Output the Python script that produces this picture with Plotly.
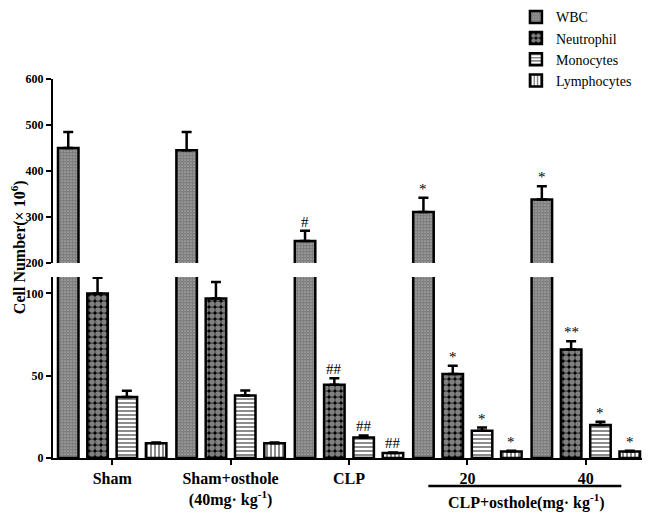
import plotly.graph_objects as go

categories = ["Sham", "Sham+osthole<br>(40mg· kg<sup>-1</sup>)", "CLP", "20", "40"]
series_names = ["WBC", "Neutrophil", "Monocytes", "Lymphocytes"]
wbc = [450, 445, 248, 311, 338]
wbc_err = [35, 40, 22, 31, 29]
neutrophil = [100, 97, 44.5, 51, 66]
neutrophil_err = [9.5, 10, 4, 5, 5]
monocytes = [37, 38, 12.5, 16.5, 20]
monocytes_err = [3.8, 3, 1.2, 2, 2]
lymphocytes = [9, 9, 3, 4, 4]
lymphocytes_err = [0.4, 0.4, 0.4, 0.4, 0.4]
wbc_marks = ["", "", "#", "*", "*"]
neutrophil_marks = ["", "", "##", "*", "**"]
monocytes_marks = ["", "", "##", "*", "*"]
lymphocytes_marks = ["", "", "##", "*", "*"]

values = [wbc, neutrophil, monocytes, lymphocytes]
errors = [wbc_err, neutrophil_err, monocytes_err, lymphocytes_err]
marks = [wbc_marks, neutrophil_marks, monocytes_marks, lymphocytes_marks]

patterns = [
    dict(shape=".", size=3, solidity=0.85, fgcolor="black", bgcolor="white"),
    dict(shape=".", size=6, solidity=0.7, fgcolor="white", bgcolor="black"),
    dict(shape="-", size=4, solidity=0.45, fgcolor="black", bgcolor="white"),
    dict(shape="|", size=4, solidity=0.45, fgcolor="black", bgcolor="white"),
]

SERIF = "Liberation Serif, Times New Roman, serif"
BARGAP = 0.01
BARGROUPGAP = 0.3

fig = go.Figure()
for axis in ["y", "y2"]:
    for i, name in enumerate(series_names):
        fig.add_trace(go.Bar(
            x=categories, y=values[i], name=name, yaxis=axis,
            showlegend=(axis == "y"), legendgroup=name,
            marker=dict(color="white", pattern=patterns[i],
                        line=dict(color="black", width=2.5)),
            error_y=dict(type="data", symmetric=False, array=errors[i],
                         arrayminus=[0] * len(errors[i]),
                         color="black", thickness=2.5, width=5),
        ))

# significance marks
slot = (1 - BARGAP) / len(series_names)
annotations = []
for i in range(len(series_names)):
    off = (i - (len(series_names) - 1) / 2) * slot
    for j, m in enumerate(marks[i]):
        if not m:
            continue
        top = values[i][j] + errors[i][j]
        yref = "y2" if top > 110 else "y"
        annotations.append(dict(x=j + off, y=top, xref="x", yref=yref, text=m,
                                showarrow=False, yanchor="bottom", yshift=-1,
                                font=dict(family=SERIF, size=15, color="black")))

annotations.append(dict(x=-0.057, y=0.557, xref="paper", yref="paper",
                        xanchor="center", yanchor="middle",
                        text="<b>Cell Number(× 10<sup>6</sup>)</b>", textangle=-90,
                        showarrow=False, font=dict(family=SERIF, size=16, color="black")))
annotations.append(dict(x=3.5, y=-0.1135, xref="x", yref="paper",
                        text="<b>CLP+osthole(mg· kg<sup>-1</sup>)</b>", showarrow=False,
                        yanchor="middle", font=dict(family=SERIF, size=16, color="black")))

shapes = [dict(type="line", xref="x", yref="paper", x0=2.67, x1=4.3, y0=-0.074, y1=-0.074,
               line=dict(color="black", width=2.5))]

axis_common = dict(showgrid=False, zeroline=False, showline=True, linecolor="black",
                   linewidth=2, ticks="outside", ticklen=5, tickwidth=2, tickcolor="black",
                   tickfont=dict(family=SERIF, size=12, color="black"))

fig.update_layout(
    width=642, height=507,
    margin=dict(l=45, r=5, t=71, b=57, autoexpand=False),
    plot_bgcolor="white", paper_bgcolor="white",
    barmode="group", bargap=BARGAP, bargroupgap=BARGROUPGAP,
    xaxis=dict(range=[-0.5, 4.5], anchor="y", showgrid=False, zeroline=False,
               showline=True, linecolor="black", linewidth=2, ticks="outside",
               ticklen=5, tickwidth=2, tickcolor="black", automargin=False,
               tickfont=dict(family=SERIF, size=16, color="black"),
               tickprefix="<b>", ticksuffix="</b>"),
    yaxis=dict(domain=[0, 0.4776], range=[0, 110], tickvals=[0, 50, 100],
               ticktext=["<b>0</b>", "<b>50</b>", "<b>100</b>"], anchor="x",
               automargin=False, **axis_common),
    yaxis2=dict(domain=[0.5145, 1], range=[200, 600], tickvals=[200, 300, 400, 500, 600],
                ticktext=["<b>%d</b>" % v for v in [200, 300, 400, 500, 600]],
                anchor="x", automargin=False, **axis_common),
    legend=dict(x=0.782, y=1.205, xanchor="left", yanchor="top",
                font=dict(family=SERIF, size=14, color="black"),
                bgcolor="rgba(0,0,0,0)", tracegroupgap=0, itemwidth=30),
    annotations=annotations, shapes=shapes,
)

fig.write_html("out.html")
